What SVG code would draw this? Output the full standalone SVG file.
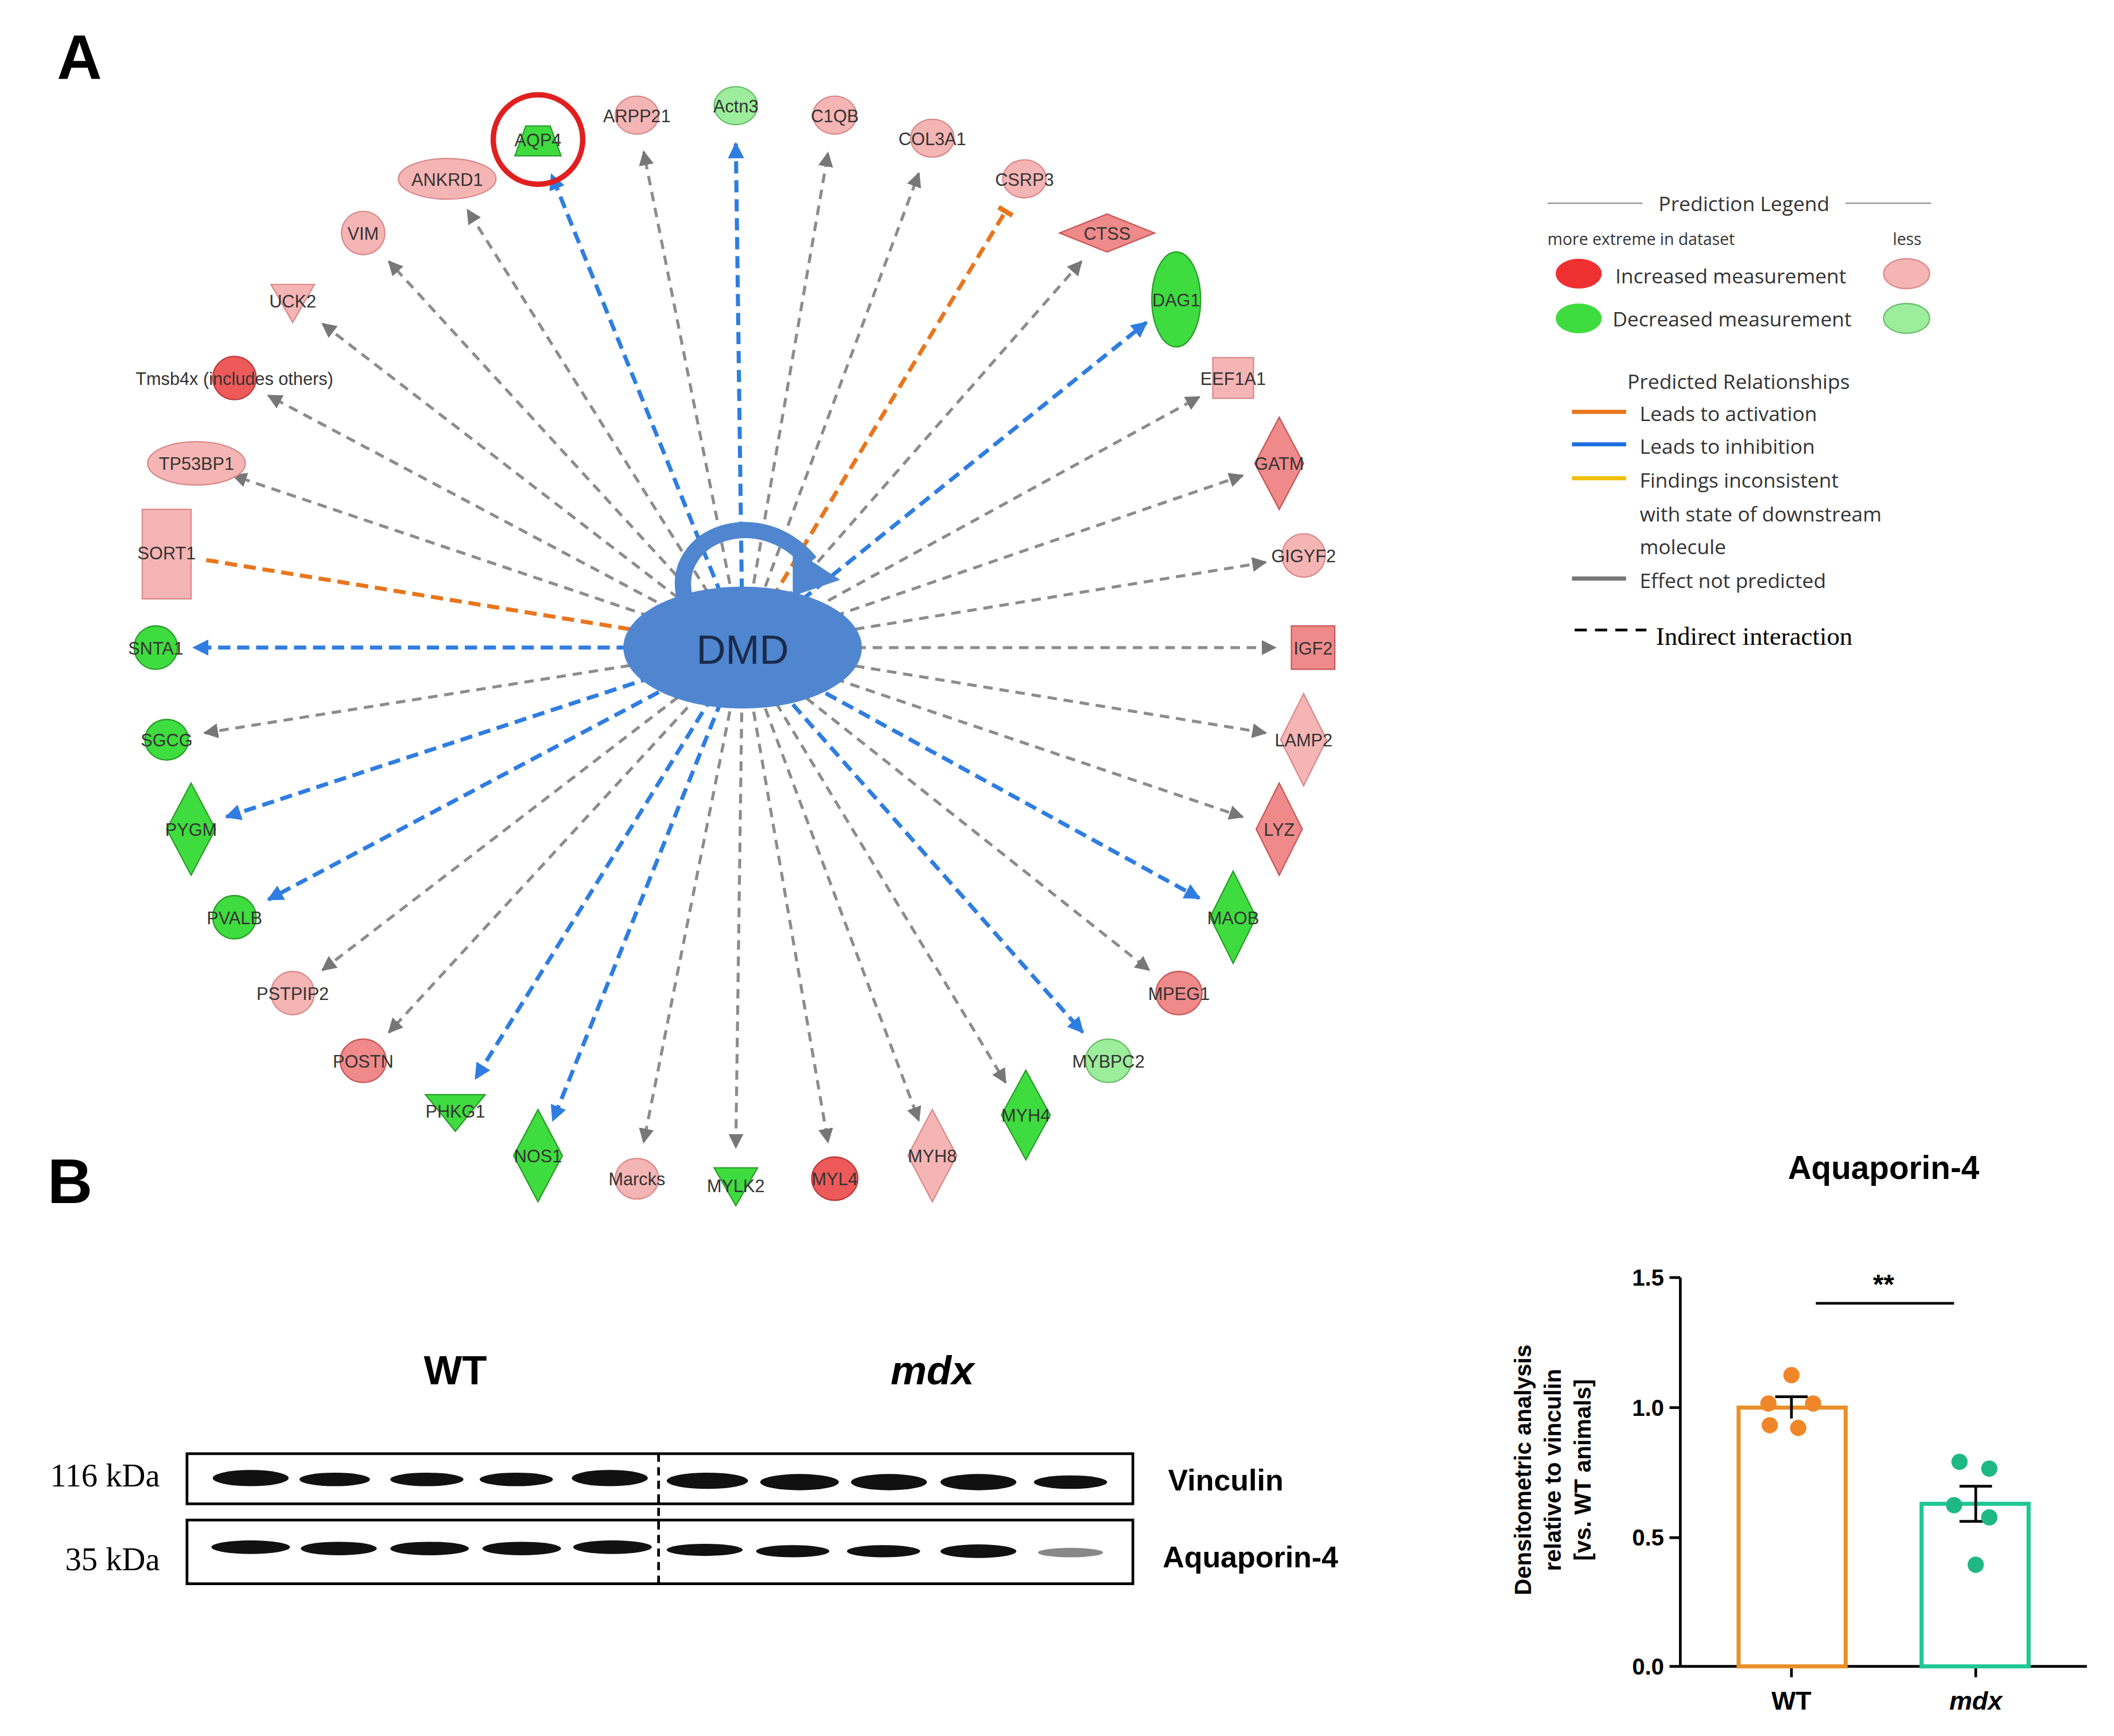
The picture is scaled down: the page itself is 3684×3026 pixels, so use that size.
<svg xmlns="http://www.w3.org/2000/svg" width="3684" height="3026" viewBox="0 0 3684 3026">
<defs>
<style>
.t{font-family:"Liberation Sans",Arial,sans-serif;font-size:13px;fill:#333;text-anchor:middle}
.lp{fill:#f6b5b5;stroke:#d98c8c;stroke-width:1}
.rd{fill:#ee5a5a;stroke:#c03a3a;stroke-width:1}
.mr{fill:#f08a8a;stroke:#c85a5a;stroke-width:1}
.lg{fill:#9ced9c;stroke:#6cbf6c;stroke-width:1}
.gr{fill:#3fdc3f;stroke:#2aa02a;stroke-width:1}
.ge{stroke:#8c8c8c;stroke-width:2.2;stroke-dasharray:7 5;fill:none}
.be{stroke:#2f7de0;stroke-width:3;stroke-dasharray:9 5;fill:none}
.oe{stroke:#e8761e;stroke-width:3;stroke-dasharray:9 5;fill:none}
.lt{font-family:"Open Sans","Liberation Sans",sans-serif;font-size:15px;fill:#333}
.b{font-family:"Liberation Sans",Arial,sans-serif;font-weight:bold}
</style>
<marker id="ag" viewBox="0 0 10 10" refX="9" refY="5" markerWidth="5" markerHeight="5" orient="auto"><path d="M0,0 L10,5 L0,10 z" fill="#777"/></marker>
<marker id="ab" viewBox="0 0 10 10" refX="9" refY="5" markerWidth="4" markerHeight="4" orient="auto"><path d="M0,0 L10,5 L0,10 z" fill="#2f7de0"/></marker>
<marker id="ob" viewBox="0 0 10 10" refX="5" refY="5" markerWidth="4" markerHeight="4" orient="auto"><path d="M5,0 L5,10" stroke="#e8761e" stroke-width="3"/></marker>
</defs>
<rect width="3684" height="3026" fill="#fff"/>
<g transform="scale(2.3615)">
<text x="42" y="58" class="b" font-size="46" fill="#000">A</text>
<text x="35" y="888" class="b" font-size="46" fill="#000">B</text>
<g id="connectors">
<line x1="548" y1="478" x2="407" y2="129" class="be" marker-end="url(#ab)"/>
<line x1="548" y1="478" x2="475" y2="112" class="ge" marker-end="url(#ag)"/>
<line x1="548" y1="478" x2="543" y2="106" class="be" marker-end="url(#ab)"/>
<line x1="548" y1="478" x2="611" y2="113" class="ge" marker-end="url(#ag)"/>
<line x1="548" y1="478" x2="678" y2="128" class="ge" marker-end="url(#ag)"/>
<line x1="548" y1="478" x2="742" y2="156" class="oe" marker-end="url(#ob)"/>
<line x1="548" y1="478" x2="798" y2="193" class="ge" marker-end="url(#ag)"/>
<line x1="548" y1="478" x2="846" y2="238" class="be" marker-end="url(#ab)"/>
<line x1="548" y1="478" x2="885" y2="293" class="ge" marker-end="url(#ag)"/>
<line x1="548" y1="478" x2="917" y2="351" class="ge" marker-end="url(#ag)"/>
<line x1="548" y1="478" x2="934" y2="415" class="ge" marker-end="url(#ag)"/>
<line x1="548" y1="478" x2="941" y2="478" class="ge" marker-end="url(#ag)"/>
<line x1="548" y1="478" x2="934" y2="541" class="ge" marker-end="url(#ag)"/>
<line x1="548" y1="478" x2="917" y2="603" class="ge" marker-end="url(#ag)"/>
<line x1="548" y1="478" x2="885" y2="663" class="be" marker-end="url(#ab)"/>
<line x1="548" y1="478" x2="848" y2="716" class="ge" marker-end="url(#ag)"/>
<line x1="548" y1="478" x2="799" y2="762" class="be" marker-end="url(#ab)"/>
<line x1="548" y1="478" x2="742" y2="799" class="ge" marker-end="url(#ag)"/>
<line x1="548" y1="478" x2="678" y2="827" class="ge" marker-end="url(#ag)"/>
<line x1="548" y1="478" x2="611" y2="843" class="ge" marker-end="url(#ag)"/>
<line x1="548" y1="478" x2="543" y2="847" class="ge" marker-end="url(#ag)"/>
<line x1="548" y1="478" x2="475" y2="843" class="ge" marker-end="url(#ag)"/>
<line x1="548" y1="478" x2="408" y2="827" class="be" marker-end="url(#ab)"/>
<line x1="548" y1="478" x2="351" y2="796" class="be" marker-end="url(#ab)"/>
<line x1="548" y1="478" x2="287" y2="762" class="ge" marker-end="url(#ag)"/>
<line x1="548" y1="478" x2="238" y2="716" class="ge" marker-end="url(#ag)"/>
<line x1="548" y1="478" x2="198" y2="664" class="be" marker-end="url(#ab)"/>
<line x1="548" y1="478" x2="167" y2="603" class="be" marker-end="url(#ab)"/>
<line x1="548" y1="478" x2="151" y2="541" class="ge" marker-end="url(#ag)"/>
<line x1="548" y1="478" x2="143" y2="478" class="be" marker-end="url(#ab)"/>
<line x1="548" y1="478" x2="150" y2="413" class="oe"/>
<line x1="548" y1="478" x2="172" y2="351" class="ge" marker-end="url(#ag)"/>
<line x1="548" y1="478" x2="198" y2="292" class="ge" marker-end="url(#ag)"/>
<line x1="548" y1="478" x2="238" y2="239" class="ge" marker-end="url(#ag)"/>
<line x1="548" y1="478" x2="287" y2="193" class="ge" marker-end="url(#ag)"/>
<line x1="548" y1="478" x2="345" y2="155" class="ge" marker-end="url(#ag)"/>
</g>
<g id="DMD">
<path d="M505,440 C495,395 560,370 598,415" fill="none" stroke="#4f86cf" stroke-width="12"/>
<path d="M585,405 L620,428 L585,440 z" fill="#4f86cf"/>
<ellipse cx="548" cy="478" rx="88" ry="45" fill="#4f86cf"/>
<text x="548" y="490" class="t" style="font-size:30px;fill:#1a2a4a">DMD</text>
</g>
<g id="AQP4"><path d="M388,93 L406,93 L414,115 L380,115 z" class="gr"/><circle cx="397" cy="103" r="33" fill="none" stroke="#e02020" stroke-width="4"/><text x="397" y="108" class="t">AQP4</text></g>
<g id="ARPP21"><ellipse cx="470" cy="85" rx="16" ry="14" class="lp"/><text x="470" y="90" class="t">ARPP21</text></g>
<g id="Actn3"><ellipse cx="543" cy="78" rx="16" ry="14" class="lg"/><text x="543" y="83" class="t">Actn3</text></g>
<g id="C1QB"><ellipse cx="616" cy="85" rx="16" ry="14" class="lp"/><text x="616" y="90" class="t">C1QB</text></g>
<g id="COL3A1"><ellipse cx="688" cy="102" rx="16" ry="14" class="lp"/><text x="688" y="107" class="t">COL3A1</text></g>
<g id="CSRP3"><ellipse cx="756" cy="132" rx="16" ry="14" class="lp"/><text x="756" y="137" class="t">CSRP3</text></g>
<g id="CTSS"><path d="M782,172 L817,158 L852,172 L817,186 z" class="mr"/><text x="817" y="177" class="t">CTSS</text></g>
<g id="DAG1"><ellipse cx="868" cy="221" rx="18" ry="35" class="gr"/><text x="868" y="226" class="t">DAG1</text></g>
<g id="EEF1A1"><rect x="895" y="264" width="30" height="30" class="lp"/><text x="910" y="284" class="t">EEF1A1</text></g>
<g id="GATM"><path d="M944,308 L962,342 L944,376 L926,342 z" class="mr"/><text x="944" y="347" class="t">GATM</text></g>
<g id="GIGYF2"><circle cx="962" cy="410" r="16" class="lp"/><text x="962" y="415" class="t">GIGYF2</text></g>
<g id="IGF2"><rect x="953" y="462" width="32" height="32" class="mr"/><text x="969" y="483" class="t">IGF2</text></g>
<g id="LAMP2"><path d="M962,512 L979,546 L962,580 L945,546 z" class="lp"/><text x="962" y="551" class="t">LAMP2</text></g>
<g id="LYZ"><path d="M944,578 L961,612 L944,646 L927,612 z" class="mr"/><text x="944" y="617" class="t">LYZ</text></g>
<g id="MAOB"><path d="M910,643 L927,677 L910,711 L893,677 z" class="gr"/><text x="910" y="682" class="t">MAOB</text></g>
<g id="MPEG1"><ellipse cx="870" cy="733" rx="17" ry="16" class="mr"/><text x="870" y="738" class="t">MPEG1</text></g>
<g id="MYBPC2"><ellipse cx="818" cy="783" rx="17" ry="16" class="lg"/><text x="818" y="788" class="t">MYBPC2</text></g>
<g id="MYH4"><path d="M757,790 L775,823 L757,856 L739,823 z" class="gr"/><text x="757" y="828" class="t">MYH4</text></g>
<g id="MYH8"><path d="M688,819 L706,853 L688,887 L670,853 z" class="lp"/><text x="688" y="858" class="t">MYH8</text></g>
<g id="MYL4"><ellipse cx="616" cy="870" rx="17" ry="16" class="rd"/><text x="616" y="875" class="t">MYL4</text></g>
<g id="MYLK2"><path d="M527,862 L559,862 L543,890 z" class="gr"/><text x="543" y="880" class="t">MYLK2</text></g>
<g id="Marcks"><ellipse cx="470" cy="870" rx="16" ry="15" class="lp"/><text x="470" y="875" class="t">Marcks</text></g>
<g id="NOS1"><path d="M397,819 L415,853 L397,887 L379,853 z" class="gr"/><text x="397" y="858" class="t">NOS1</text></g>
<g id="PHKG1"><path d="M314,808 L358,808 L336,835 z" class="gr"/><text x="336" y="825" class="t">PHKG1</text></g>
<g id="POSTN"><ellipse cx="268" cy="783" rx="17" ry="16" class="mr"/><text x="268" y="788" class="t">POSTN</text></g>
<g id="PSTPIP2"><ellipse cx="216" cy="733" rx="16" ry="16" class="lp"/><text x="216" y="738" class="t">PSTPIP2</text></g>
<g id="PVALB"><ellipse cx="173" cy="677" rx="16" ry="16" class="gr"/><text x="173" y="682" class="t">PVALB</text></g>
<g id="PYGM"><path d="M141,578 L159,612 L141,646 L123,612 z" class="gr"/><text x="141" y="617" class="t">PYGM</text></g>
<g id="SGCG"><ellipse cx="123" cy="546" rx="16" ry="15" class="gr"/><text x="123" y="551" class="t">SGCG</text></g>
<g id="SNTA1"><ellipse cx="115" cy="478" rx="16" ry="16" class="gr"/><text x="115" y="483" class="t">SNTA1</text></g>
<g id="SORT1"><rect x="105" y="376" width="36" height="66" class="lp"/><text x="123" y="413" class="t">SORT1</text></g>
<g id="TP53BP1"><ellipse cx="145" cy="342" rx="36" ry="16" class="lp"/><text x="145" y="347" class="t">TP53BP1</text></g>
<g id="Tmsb4x"><circle cx="173" cy="279" r="16" class="rd"/><text x="173" y="284" class="t">Tmsb4x (includes others)</text></g>
<g id="UCK2"><path d="M200,210 L232,210 L216,238 z" class="lp"/><text x="216" y="227" class="t">UCK2</text></g>
<g id="VIM"><ellipse cx="268" cy="172" rx="16" ry="16" class="lp"/><text x="268" y="177" class="t">VIM</text></g>
<g id="ANKRD1"><ellipse cx="330" cy="132" rx="36" ry="15" class="lp"/><text x="330" y="137" class="t">ANKRD1</text></g>

<g id="legend">
<line x1="1142" y1="150" x2="1212" y2="150" stroke="#999"/><line x1="1362" y1="150" x2="1425" y2="150" stroke="#999"/>
<text x="1287" y="156" class="lt" text-anchor="middle">Prediction Legend</text>
<text x="1142" y="181" class="lt" style="font-size:12px">more extreme in dataset</text>
<text x="1418" y="181" class="lt" style="font-size:12px" text-anchor="end">less</text>
<ellipse cx="1165" cy="202" rx="17" ry="11" fill="#ee3030"/>
<text x="1192" y="209" class="lt">Increased measurement</text>
<ellipse cx="1407" cy="202" rx="17" ry="11" class="lp"/>
<ellipse cx="1165" cy="235" rx="17" ry="11" fill="#3fdc3f"/>
<text x="1190" y="241" class="lt">Decreased measurement</text>
<ellipse cx="1407" cy="235" rx="17" ry="11" class="lg"/>
<text x="1283" y="287" class="lt" text-anchor="middle">Predicted Relationships</text>
<line x1="1160" y1="304" x2="1200" y2="304" stroke="#e8761e" stroke-width="3"/><text x="1210" y="311" class="lt">Leads to activation</text>
<line x1="1160" y1="328" x2="1200" y2="328" stroke="#1f6fe0" stroke-width="3"/><text x="1210" y="335" class="lt">Leads to inhibition</text>
<line x1="1160" y1="353" x2="1200" y2="353" stroke="#f0c010" stroke-width="3"/><text x="1210" y="360" class="lt">Findings inconsistent</text>
<text x="1210" y="385" class="lt">with state of downstream</text>
<text x="1210" y="409" class="lt">molecule</text>
<line x1="1160" y1="427" x2="1200" y2="427" stroke="#777" stroke-width="3"/><text x="1210" y="434" class="lt">Effect not predicted</text>
<line x1="1162" y1="465" x2="1215" y2="465" stroke="#000" stroke-width="2" stroke-dasharray="9 6"/>
<text x="1222" y="476" font-family="Liberation Serif,serif" font-size="19" fill="#000">Indirect interaction</text>
</g>

<g id="blot">
<text x="336" y="1022" class="b" font-size="30" text-anchor="middle">WT</text>
<text x="688" y="1022" class="b" font-size="30" font-style="italic" text-anchor="middle">mdx</text>
<rect x="138" y="1073" width="698" height="37" fill="#fff" stroke="#000" stroke-width="2"/>
<rect x="138" y="1122" width="698" height="47" fill="#fff" stroke="#000" stroke-width="2"/>
<line x1="486" y1="1073" x2="486" y2="1169" stroke="#000" stroke-width="2" stroke-dasharray="6 4"/>
<g fill="#111">
<ellipse cx="185" cy="1091" rx="28" ry="6"/><ellipse cx="247" cy="1092" rx="26" ry="5"/><ellipse cx="315" cy="1092" rx="27" ry="5"/><ellipse cx="381" cy="1092" rx="27" ry="5"/><ellipse cx="450" cy="1091" rx="28" ry="6"/>
<ellipse cx="522" cy="1093" rx="30" ry="6"/><ellipse cx="590" cy="1094" rx="29" ry="6"/><ellipse cx="656" cy="1094" rx="28" ry="6"/><ellipse cx="722" cy="1094" rx="28" ry="6"/><ellipse cx="790" cy="1094" rx="27" ry="5"/>
<ellipse cx="185" cy="1142" rx="29" ry="5"/><ellipse cx="250" cy="1143" rx="28" ry="5"/><ellipse cx="317" cy="1143" rx="29" ry="5"/><ellipse cx="385" cy="1143" rx="29" ry="5"/><ellipse cx="452" cy="1142" rx="29" ry="5"/>
<ellipse cx="520" cy="1144" rx="28" ry="4.5"/><ellipse cx="585" cy="1145" rx="27" ry="4.5"/><ellipse cx="652" cy="1145" rx="27" ry="4.5"/><ellipse cx="722" cy="1145" rx="28" ry="5"/>
</g>
<ellipse cx="790" cy="1146" rx="24" ry="3.5" fill="#888"/>
<text x="118" y="1097" font-family="Liberation Serif,serif" font-size="24" text-anchor="end">116 kDa</text>
<text x="118" y="1159" font-family="Liberation Serif,serif" font-size="24" text-anchor="end">35 kDa</text>
<text x="862" y="1100" class="b" font-size="22">Vinculin</text>
<text x="858" y="1157" class="b" font-size="22">Aquaporin-4</text>
</g>

<g id="chart">
<text x="1390" y="870" class="b" font-size="24" text-anchor="middle">Aquaporin-4</text>
<line x1="1240" y1="943" x2="1240" y2="1230" stroke="#000" stroke-width="2"/>
<line x1="1240" y1="1230" x2="1540" y2="1230" stroke="#000" stroke-width="2"/>
<g stroke="#000" stroke-width="2"><line x1="1232" y1="943" x2="1240" y2="943"/><line x1="1232" y1="1039" x2="1240" y2="1039"/><line x1="1232" y1="1135" x2="1240" y2="1135"/><line x1="1232" y1="1230" x2="1240" y2="1230"/><line x1="1322" y1="1230" x2="1322" y2="1238"/><line x1="1458" y1="1230" x2="1458" y2="1238"/></g>
<g class="b" font-size="17" text-anchor="end"><text x="1228" y="949">1.5</text><text x="1228" y="1045">1.0</text><text x="1228" y="1141">0.5</text><text x="1228" y="1236">0.0</text></g>
<text transform="translate(1130,1085) rotate(-90)" class="b" font-size="17" text-anchor="middle">Densitometric analysis</text>
<text transform="translate(1152,1085) rotate(-90)" class="b" font-size="17" text-anchor="middle">relative to vinculin</text>
<text transform="translate(1174,1085) rotate(-90)" class="b" font-size="17" text-anchor="middle">[vs. WT animals]</text>
<rect x="1283" y="1039" width="79" height="191" fill="#fff" stroke="#e8902a" stroke-width="3"/>
<rect x="1418" y="1110" width="79" height="120" fill="#fff" stroke="#1fc795" stroke-width="3"/>
<g stroke="#000" stroke-width="2"><line x1="1322" y1="1031" x2="1322" y2="1047"/><line x1="1310" y1="1031" x2="1334" y2="1031"/><line x1="1458" y1="1097" x2="1458" y2="1123"/><line x1="1446" y1="1097" x2="1470" y2="1097"/><line x1="1446" y1="1123" x2="1470" y2="1123"/><line x1="1340" y1="962" x2="1442" y2="962"/></g>
<text x="1390" y="955" class="b" font-size="20" text-anchor="middle">**</text>
<g fill="#f0862a"><circle cx="1322" cy="1015" r="6"/><circle cx="1305" cy="1036" r="6"/><circle cx="1338" cy="1036" r="6"/><circle cx="1306" cy="1052" r="6"/><circle cx="1327" cy="1054" r="6"/></g>
<g fill="#1fb885"><circle cx="1446" cy="1079" r="6"/><circle cx="1468" cy="1084" r="6"/><circle cx="1442" cy="1111" r="6"/><circle cx="1468" cy="1120" r="6"/><circle cx="1458" cy="1155" r="6"/></g>
<text x="1322" y="1262" class="b" font-size="19" text-anchor="middle">WT</text>
<text x="1458" y="1262" class="b" font-size="19" font-style="italic" text-anchor="middle">mdx</text>
</g>
</g>
</svg>
